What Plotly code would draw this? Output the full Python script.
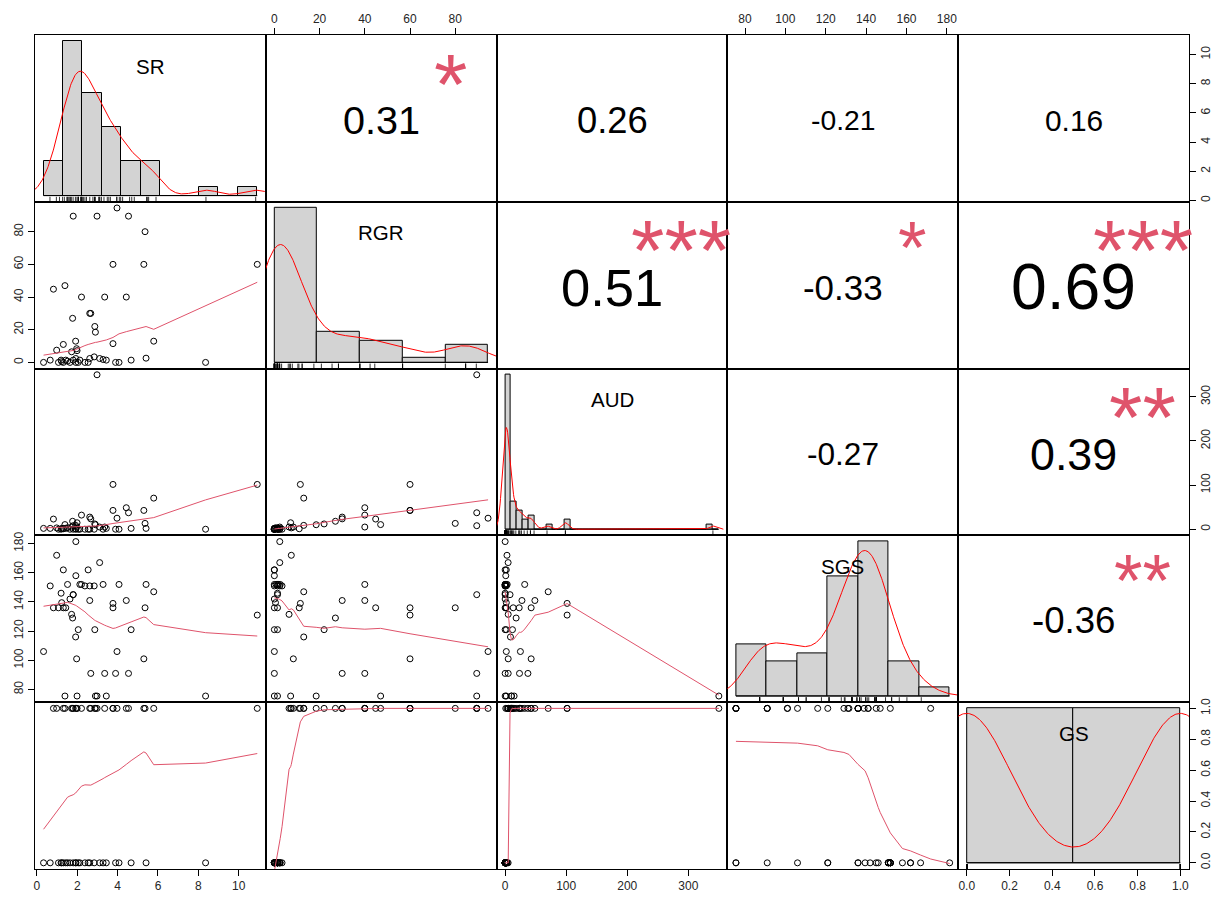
import numpy as np
import plotly.graph_objects as go
from plotly.subplots import make_subplots

variables = ["SR", "RGR", "AUD", "SGS", "GS"]

# one value per observation (52 observations)
SR = [0.33, 0.66, 0.82, 0.98, 1.07, 1.20, 1.23, 1.31, 1.31, 1.39,
      1.43, 1.52, 1.64, 1.72, 1.77, 1.80, 1.80, 1.92, 1.93, 1.93,
      1.97, 1.99, 2.05, 2.13, 2.21, 2.38, 2.54, 2.62, 2.62, 2.67,
      2.84, 2.87, 2.90, 2.98, 3.11, 3.28, 3.36, 3.44, 3.77, 3.77,
      3.90, 3.97, 4.07, 4.43, 4.54, 4.67, 5.30, 5.36, 5.41, 5.79,
      8.36, 10.92]
RGR = [0, 1.4, 44.8, 7.5, 0, 1.4, 0.5, 0, 11, 47,
       1.4, 0.8, 0, 6.5, 27, 89.5, 1.4, 13, 2.4, 0,
       8.4, 7.2, 0, 1.4, 40, 0, 0, 30, 2.4, 30,
       3.4, 22, 18.5, 89.5, 2.4, 1.8, 40, 1.4, 60, 11.5,
       0, 94.5, 0, 40, 89.5, 1.4, 60, 80, 2.6, 13,
       0, 60]
AUD = [1.9, 1.9, 23, 3, 0, 0, 1.9, 1.9, 1, 10.5,
       1.9, 3.4, 0, 5, 18, 8, 0, 8.7, 0, 1,
       5, 14.7, 0, 0, 32, 0, 0, 27.5, 0, 23.5,
       0, 12, 10.2, 350, 4.9, 0, 5, 1.9, 42.6, 101.5,
       0, 25, 0, 48.7, 37.3, 1.9, 42.6, 13.2, 1.9, 70.5,
       0, 101.5]
SGS = [106, 151, 136, 172, 136, 146, 139.5, 162, 136, 75.5,
       136, 152, 142, 131.5, 129, 145, 145, 116, 181.4, 158,
       101, 75.5, 121, 152, 152, 151, 162, 141, 151, 91,
       151, 121, 75.5, 75.5, 167, 152, 91, 75.5, 136, 139,
       91, 106, 152, 141, 91, 121, 101, 136, 152, 147,
       75.5, 131]
GS = [0, 0, 1, 1, 0, 0, 0, 0, 1, 1,
      0, 0, 0, 1, 1, 1, 0, 1, 0, 0,
      1, 1, 0, 0, 1, 0, 0, 1, 0, 1,
      0, 1, 1, 1, 0, 0, 1, 0, 1, 1,
      0, 1, 0, 1, 1, 0, 1, 1, 0, 1,
      0, 1]

# histogram break points for the diagonal panels
breaks_SR = list(range(0, 12))
breaks_RGR = [0, 20, 40, 60, 80, 100]
breaks_AUD = list(range(0, 370, 10))
breaks_SGS = [60, 80, 100, 120, 140, 160, 180, 200]
breaks_GS = [0, 0.5, 1]

# axis tick positions
ticks_SR = [0, 2, 4, 6, 8, 10]
ticks_RGR = [0, 20, 40, 60, 80]
ticks_AUD = [0, 100, 200, 300]
ticks_SGS = [80, 100, 120, 140, 160, 180]
ticks_GS = [0.0, 0.2, 0.4, 0.6, 0.8, 1.0]

# upper triangle: correlation coefficients and significance stars
pair_rows = [0, 0, 0, 0, 1, 1, 1, 2, 2, 3]
pair_cols = [1, 2, 3, 4, 2, 3, 4, 3, 4, 4]
pair_r = [0.31, 0.26, -0.21, 0.16, 0.51, -0.33, 0.69, -0.27, 0.39, -0.36]
pair_stars = ["*", "", "", "", "***", "*", "***", "", "**", "**"]

data = [np.array(v, float) for v in (SR, RGR, AUD, SGS, GS)]
breaks = [np.array(b, float) for b in (breaks_SR, breaks_RGR, breaks_AUD, breaks_SGS, breaks_GS)]
ticks = [ticks_SR, ticks_RGR, ticks_AUD, ticks_SGS, ticks_GS]
ticklabels = [[str(t) for t in ticks_SR], [str(t) for t in ticks_RGR],
              [str(t) for t in ticks_AUD], [str(t) for t in ticks_SGS],
              ["%.1f" % t for t in ticks_GS]]

FONT = "Liberation Sans, Arial, sans-serif"
SMOOTH_COL = "#DF536B"
N = len(variables)
PANEL_W = 232.0


def padded(lo, hi):
    p = 0.04 * (hi - lo)
    return [lo - p, hi + p]


def _lowest(x, y, xs, nleft, nright, rw, userw):
    n = len(x)
    rng = x[-1] - x[0]
    h = max(xs - x[nleft], x[nright] - xs)
    h9, h1 = 0.999 * h, 0.001 * h
    w = np.zeros(n)
    a = 0.0
    j = nleft
    while j < n:
        r = abs(x[j] - xs)
        if r <= h9:
            w[j] = 1.0 if r <= h1 else (1 - (r / h) ** 3) ** 3
            if userw:
                w[j] *= rw[j]
            a += w[j]
        elif x[j] > xs:
            break
        j += 1
    nrt = j - 1
    if a <= 0:
        return 0.0, False
    sl = slice(nleft, nrt + 1)
    w[sl] /= a
    if h > 0:
        a = np.sum(w[sl] * x[sl])
        b = xs - a
        c = np.sum(w[sl] * (x[sl] - a) ** 2)
        if np.sqrt(c) > 0.001 * rng:
            b /= c
            w[sl] *= (b * (x[sl] - a) + 1.0)
    return float(np.sum(w[sl] * y[sl])), True


def lowess(x, y, f=2 / 3, iters=3):
    o = np.argsort(x, kind="mergesort")
    x = np.asarray(x, float)[o]
    y = np.asarray(y, float)[o]
    n = len(x)
    ns = max(2, min(n, int(f * n + 1e-7)))
    delta = 0.01 * (x[-1] - x[0])
    rw = np.ones(n)
    ys = np.zeros(n)
    for it in range(iters + 1):
        nleft, nright, last, i = 0, ns - 1, -1, 0
        while True:
            if nright < n - 1:
                if x[i] - x[nleft] > x[nright + 1] - x[i]:
                    nleft += 1
                    nright += 1
                    continue
            val, ok = _lowest(x, y, x[i], nleft, nright, rw, it > 0)
            ys[i] = val if ok else y[i]
            if last < i - 1:
                denom = x[i] - x[last]
                for j in range(last + 1, i):
                    alpha = (x[j] - x[last]) / denom
                    ys[j] = alpha * ys[i] + (1 - alpha) * ys[last]
            last = i
            cut = x[last] + delta
            i = last + 1
            while i < n:
                if x[i] > cut:
                    break
                if x[i] == x[last]:
                    ys[i] = ys[last]
                    last = i
                i += 1
            i = max(last + 1, i - 1)
            if last >= n - 1:
                break
        ares = np.abs(y - ys)
        if it >= iters:
            break
        sc = ares.sum() / n
        cmad = 6 * np.median(ares)
        if cmad < 1e-7 * sc:
            break
        c9, c1 = 0.999 * cmad, 0.001 * cmad
        rw = np.where(ares <= c1, 1.0,
                      np.where(ares <= c9, (1 - (ares / cmad) ** 2) ** 2, 0.0))
    return x, ys


def kde(v):
    n = len(v)
    sd = v.std(ddof=1)
    q75, q25 = np.percentile(v, [75, 25])
    lo = min(sd, (q75 - q25) / 1.34)
    if lo == 0:
        lo = sd if sd > 0 else 1.0
    bw = 0.9 * lo * n ** -0.2
    grid = np.linspace(v.min() - 3 * bw, v.max() + 3 * bw, 512)
    dens = np.exp(-0.5 * ((grid[:, None] - v[None, :]) / bw) ** 2).sum(1) / (n * bw * np.sqrt(2 * np.pi))
    return grid, dens


def hist_density(v, br):
    idx = np.searchsorted(br, v, side="left") - 1
    idx[idx < 0] = 0
    counts = np.bincount(idx, minlength=len(br) - 1)
    widths = np.diff(br)
    return counts / (len(v) * widths), widths


def em_width(s):
    adv = {".": 0.278, "-": 0.333}
    return sum(adv.get(ch, 0.556) for ch in s)


fig = make_subplots(rows=N, cols=N, horizontal_spacing=0, vertical_spacing=0)

axis_base = dict(showline=True, mirror=True, linecolor="black", linewidth=1,
                 showgrid=False, zeroline=False, showticklabels=False, ticks="")
tick_style = dict(ticks="outside", ticklen=6, tickwidth=1, tickcolor="black",
                  showticklabels=True, tickfont=dict(family=FONT, size=12, color="#262626"))

annotations = []
for i in range(N):
    for j in range(N):
        k = i * N + j + 1
        xname = "xaxis" if k == 1 else "xaxis%d" % k
        yname = "yaxis" if k == 1 else "yaxis%d" % k
        xref = "x" if k == 1 else "x%d" % k
        yref = "y" if k == 1 else "y%d" % k
        xa = dict(axis_base)
        ya = dict(axis_base)
        xv, yv = data[j], data[i]
        xa["range"] = padded(xv.min(), xv.max())
        ya["range"] = padded(yv.min(), yv.max())

        if i == j:
            br = breaks[i]
            dens, widths = hist_density(xv, br)
            dmax = dens.max()
            xa["range"] = padded(br[0], br[-1])
            ya["range"] = padded(0, dmax)
            fig.add_trace(go.Bar(x=(br[:-1] + br[1:]) / 2, y=dens, width=widths,
                                 marker=dict(color="#D3D3D3", line=dict(color="black", width=1)),
                                 hoverinfo="skip"), row=i + 1, col=j + 1)
            fig.add_trace(go.Scatter(x=[br[0], br[-1]], y=[0, 0], mode="lines",
                                     line=dict(color="black", width=1), hoverinfo="skip"),
                          row=i + 1, col=j + 1)
            gx, gy = kde(xv)
            fig.add_trace(go.Scatter(x=gx, y=gy, mode="lines",
                                     line=dict(color="red", width=1), hoverinfo="skip"),
                          row=i + 1, col=j + 1)
            y0 = ya["range"][0]
            y1 = y0 + 0.03 * (ya["range"][1] - ya["range"][0])
            rx, ry = [], []
            for v in xv:
                rx += [v, v, None]
                ry += [y0, y1, None]
            fig.add_trace(go.Scatter(x=rx, y=ry, mode="lines",
                                     line=dict(color="black", width=0.8), hoverinfo="skip"),
                          row=i + 1, col=j + 1)
            annotations.append(dict(text=variables[i], x=0.5, y=0.813,
                                    xref=xref + " domain", yref=yref + " domain",
                                    xanchor="center", yanchor="middle", showarrow=False,
                                    font=dict(family=FONT, size=20.5, color="black")))
        elif i > j:
            fig.add_trace(go.Scatter(x=xv, y=yv, mode="markers",
                                     marker=dict(symbol="circle-open", size=6, color="black",
                                                 line=dict(width=1)),
                                     hoverinfo="skip"), row=i + 1, col=j + 1)
            lx, ly = lowess(xv, yv)
            fig.add_trace(go.Scatter(x=lx, y=ly, mode="lines",
                                     line=dict(color=SMOOTH_COL, width=1), hoverinfo="skip"),
                          row=i + 1, col=j + 1)
        else:
            # keeps the panel's axes alive
            fig.add_trace(go.Scatter(x=[xv.mean()], y=[yv.mean()], mode="markers",
                                     marker=dict(opacity=0), hoverinfo="skip"),
                          row=i + 1, col=j + 1)

        # outer axes alternate sides as in a pairs plot
        if i == N - 1 and j % 2 == 0:
            xa.update(tick_style, tickvals=ticks[j], ticktext=ticklabels[j], side="bottom")
        if i == 0 and j % 2 == 1:
            xa.update(tick_style, tickvals=ticks[j], ticktext=ticklabels[j], side="top")
        if j == 0 and i % 2 == 1:
            ya.update(tick_style, tickvals=ticks[i], ticktext=ticklabels[i], side="left",
                      tickangle=-90)
        if j == N - 1 and i % 2 == 0 and i != N - 1:
            ya.update(tick_style, tickvals=ticks[i], ticktext=ticklabels[i], side="right",
                      tickangle=-90)
        fig.update_layout({xname: xa, yname: ya})

# right-hand scale for the last row, laid over the GS histogram panel
last = N * N
gs_rng = padded(data[N - 1].min(), data[N - 1].max())
fig.update_layout({"yaxis%d" % (last + 1): dict(
    tick_style, overlaying="y%d" % last, side="right", anchor="x%d" % last,
    range=gs_rng, tickvals=ticks[N - 1], ticktext=ticklabels[N - 1], tickangle=-90,
    showgrid=False, zeroline=False, showline=False)})
fig.add_trace(go.Scatter(x=[0.5], y=[0.5], xaxis="x%d" % last, yaxis="y%d" % (last + 1),
                         mode="markers", marker=dict(opacity=0), hoverinfo="skip"))

# correlation text (size grows with |r|) and significance stars
for r_i, c_j, r, st in zip(pair_rows, pair_cols, pair_r, pair_stars):
    k = r_i * N + c_j + 1
    xref = "x%d" % k
    yref = "y%d" % k
    txt = "%.2f" % r
    base = 0.8 * PANEL_W / em_width(txt)
    size = 0.885 * base * (abs(r) + 0.3) / 1.3
    annotations.append(dict(text=txt, x=0.5, y=0.5, xref=xref + " domain", yref=yref + " domain",
                            xanchor="center", yanchor="middle", showarrow=False, yshift=-2,
                            font=dict(family=FONT, size=size, color="black")))
    if st:
        ssize = 0.9 * base
        annotations.append(dict(text=st, x=0.8, y=0.8, xref=xref + " domain",
                                yref=yref + " domain", xanchor="center", yanchor="middle",
                                showarrow=False, yshift=-(0.223 * ssize) + 4,
                                font=dict(family=FONT, size=ssize, color=SMOOTH_COL)))

fig.update_layout(width=1225, height=905, autosize=False,
                  margin=dict(l=35, r=30, t=33, b=32),
                  paper_bgcolor="white", plot_bgcolor="white",
                  showlegend=False, bargap=0, annotations=annotations)

fig.write_html("out.html")
